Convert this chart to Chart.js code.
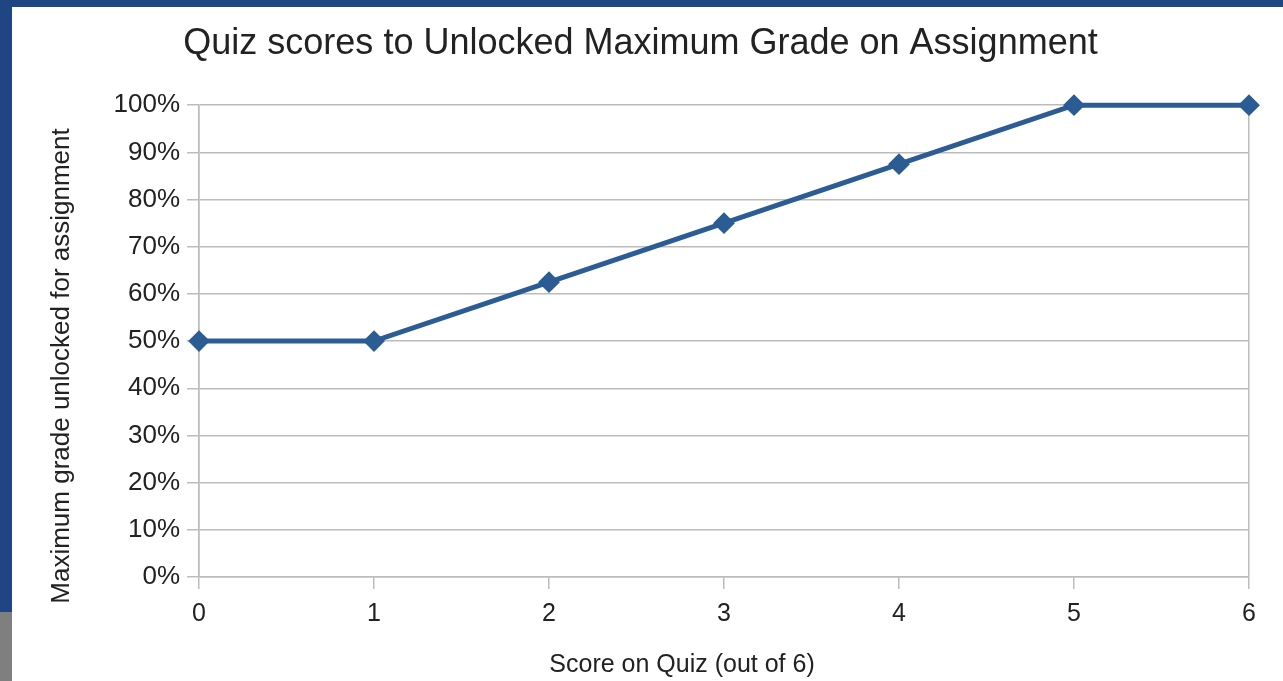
<!DOCTYPE html>
<html>
<head>
<meta charset="utf-8">
<script src="https://cdn.jsdelivr.net/npm/chart.js@4/dist/chart.umd.min.js"></script>
<style>
  html, body { margin: 0; padding: 0; }
  body { width: 1283px; height: 681px; background: #1f4682; position: relative; overflow: hidden; }
  #side { position: absolute; left: 0; top: 612px; width: 12px; height: 69px; background: #7f7f7f; }
  #chart { position: absolute; left: 12px; top: 7px; background: #fff; }
</style>
</head>
<body>
<div id="side"></div>
<canvas id="chart" width="1271" height="674"></canvas>
<script>
// quiz score (out of 6) -> max grade unlocked
const quizScores = ['0', '1', '2', '3', '4', '5', '6'];
const maxGrade = [50, 50, 62.5, 75, 87.5, 100, 100];
const gradeTicks = [0, 10, 20, 30, 40, 50, 60, 70, 80, 90, 100];

const chartTitle = 'Quiz scores to Unlocked Maximum Grade on Assignment';
const xTitle = 'Score on Quiz (out of 6)';
const yTitle = 'Maximum grade unlocked for assignment';

const gridGrey = '#bcbcbc';
const lineBlue = '#2b5c94';
const font = 'Liberation Sans, Arial, sans-serif';

// axis titles placed the way the office chart does it (centred on the whole block)
const axisTitles = {
    id: 'axisTitles',
    afterDraw(chart) {
        const ctx = chart.ctx;
        ctx.save();
        ctx.fillStyle = '#222';
        ctx.textAlign = 'center';
        ctx.textBaseline = 'middle';
        ctx.font = '25px ' + font;
        ctx.fillText(xTitle, 670, 658);
        ctx.font = '26px ' + font;
        ctx.translate(50, 359);
        ctx.rotate(-Math.PI / 2);
        ctx.fillText(yTitle, 0, 0);
        ctx.restore();
    }
};

new Chart(document.getElementById('chart'), {
    type: 'line',
    data: {
        labels: quizScores,
        datasets: [{
            data: maxGrade,
            borderColor: lineBlue,
            backgroundColor: lineBlue,
            borderWidth: 5,
            pointStyle: 'rectRot',
            pointRadius: 9.5,
            pointBorderWidth: 2,
            pointBackgroundColor: lineBlue,
            pointBorderColor: lineBlue,
            tension: 0,
            clip: false
        }]
    },
    options: {
        responsive: false,
        animation: false,
        layout: { padding: { left: 20, right: 34, top: 0, bottom: 0 } },
        plugins: {
            legend: { display: false },
            tooltip: { enabled: false },
            title: {
                display: true,
                text: chartTitle,
                color: '#222',
                font: { family: font, size: 36, weight: 'normal' },
                padding: { top: 15, bottom: 40 }
            }
        },
        scales: {
            x: {
                type: 'category',
                offset: false,
                afterFit(scale) { scale.height = 104; },
                grid: {
                    color: ctx => (ctx.index === 0 || ctx.index === quizScores.length - 1) ? gridGrey : 'rgba(0,0,0,0)',
                    tickColor: gridGrey,
                    tickLength: 12,
                    lineWidth: 1.5
                },
                border: { color: gridGrey, width: 1.5 },
                ticks: {
                    color: '#222',
                    padding: 10,
                    font: { family: font, size: 25 }
                }
            },
            y: {
                min: 0,
                max: 100,
                afterFit(scale) { scale.width = 167; },
                afterBuildTicks(scale) { scale.ticks = gradeTicks.map(v => ({ value: v })); },
                grid: {
                    color: gridGrey,
                    tickColor: gridGrey,
                    tickLength: 12,
                    lineWidth: 1.5
                },
                border: { color: gridGrey, width: 1.5 },
                ticks: {
                    color: '#222',
                    padding: 7,
                    font: { family: font, size: 26 },
                    callback: v => v + '%'
                }
            }
        }
    },
    plugins: [axisTitles]
});
</script>
</body>
</html>
